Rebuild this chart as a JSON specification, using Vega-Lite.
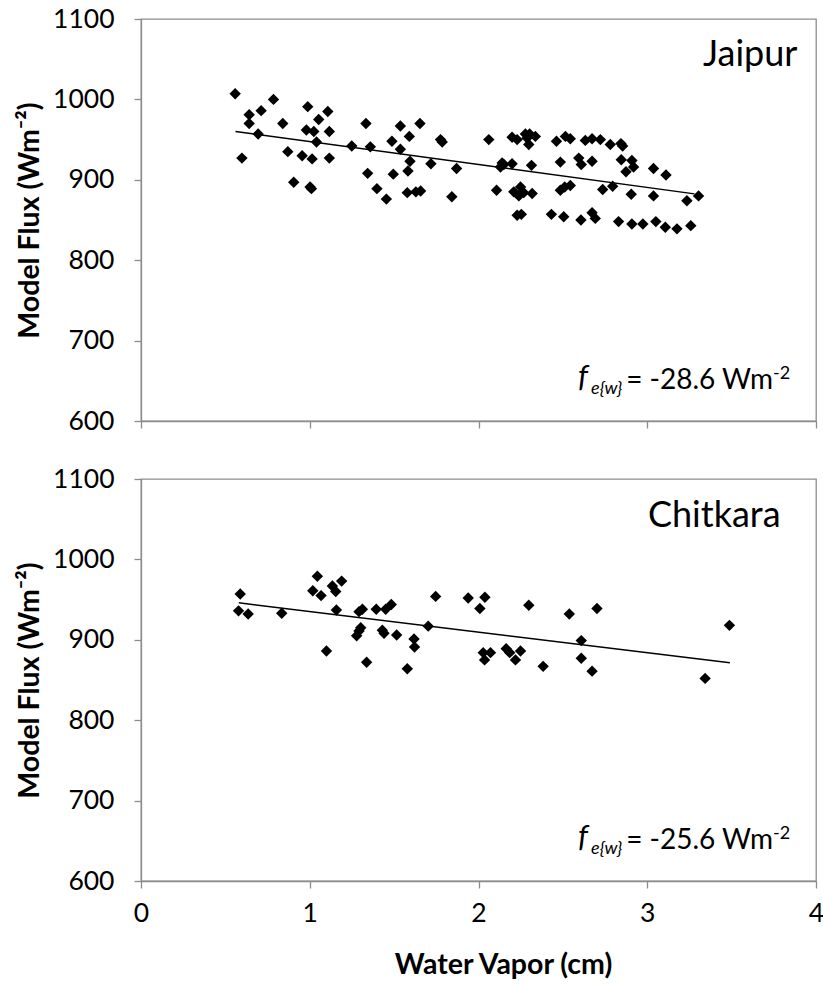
{
  "$schema": "https://vega.github.io/schema/vega-lite/v6.json",
  "background": "white",
  "padding": {"left": 14, "top": 5, "right": 6, "bottom": 5},
  "config": {
    "font": "Lato",
    "view": {"stroke": "#8c8c8c", "strokeWidth": 1.3},
    "axis": {"grid": false, "domainColor": "#8c8c8c", "tickColor": "#8c8c8c", "domainWidth": 1.3, "tickWidth": 1.3, "tickSize": 7, "labelFontSize": 26.5, "labelColor": "#000000", "labelFont": "Lato", "titleFont": "Lato", "titleFontSize": 28.5, "titleFontWeight": "bold", "titleColor": "#000000", "labelFlush": false, "labelOverlap": false}
  },
  "datasets": {
    "points": [
      {"site":"Jaipur","wv":0.558,"flux":1007},{"site":"Jaipur","wv":0.641,"flux":981},{"site":"Jaipur","wv":0.712,"flux":986},{"site":"Jaipur","wv":0.785,"flux":1000},{"site":"Jaipur","wv":0.641,"flux":970},{"site":"Jaipur","wv":0.694,"flux":957},{"site":"Jaipur","wv":0.598,"flux":927},{"site":"Jaipur","wv":0.840,"flux":970},{"site":"Jaipur","wv":0.870,"flux":935},{"site":"Jaipur","wv":0.905,"flux":897},{"site":"Jaipur","wv":0.955,"flux":930},{"site":"Jaipur","wv":0.988,"flux":991},{"site":"Jaipur","wv":0.980,"flux":962},{"site":"Jaipur","wv":1.002,"flux":891},{"site":"Jaipur","wv":1.010,"flux":889},{"site":"Jaipur","wv":1.014,"flux":926},{"site":"Jaipur","wv":1.053,"flux":975},{"site":"Jaipur","wv":1.024,"flux":960},{"site":"Jaipur","wv":1.040,"flux":947},{"site":"Jaipur","wv":1.107,"flux":985},{"site":"Jaipur","wv":1.116,"flux":960},{"site":"Jaipur","wv":1.116,"flux":927},{"site":"Jaipur","wv":1.249,"flux":942},{"site":"Jaipur","wv":1.333,"flux":970},{"site":"Jaipur","wv":1.359,"flux":941},{"site":"Jaipur","wv":1.343,"flux":908},{"site":"Jaipur","wv":1.398,"flux":889},{"site":"Jaipur","wv":1.454,"flux":876},{"site":"Jaipur","wv":1.487,"flux":948},{"site":"Jaipur","wv":1.537,"flux":967},{"site":"Jaipur","wv":1.537,"flux":938},{"site":"Jaipur","wv":1.590,"flux":954},{"site":"Jaipur","wv":1.653,"flux":970},{"site":"Jaipur","wv":1.594,"flux":923},{"site":"Jaipur","wv":1.582,"flux":911},{"site":"Jaipur","wv":1.495,"flux":907},{"site":"Jaipur","wv":1.578,"flux":884},{"site":"Jaipur","wv":1.629,"flux":885},{"site":"Jaipur","wv":1.657,"flux":886},{"site":"Jaipur","wv":1.718,"flux":920},{"site":"Jaipur","wv":1.775,"flux":950},{"site":"Jaipur","wv":1.785,"flux":947},{"site":"Jaipur","wv":1.870,"flux":914},{"site":"Jaipur","wv":1.842,"flux":879},{"site":"Jaipur","wv":2.061,"flux":950},{"site":"Jaipur","wv":2.199,"flux":953},{"site":"Jaipur","wv":2.229,"flux":950},{"site":"Jaipur","wv":2.278,"flux":957},{"site":"Jaipur","wv":2.303,"flux":957},{"site":"Jaipur","wv":2.337,"flux":954},{"site":"Jaipur","wv":2.298,"flux":944},{"site":"Jaipur","wv":2.288,"flux":952},{"site":"Jaipur","wv":2.462,"flux":948},{"site":"Jaipur","wv":2.515,"flux":954},{"site":"Jaipur","wv":2.544,"flux":951},{"site":"Jaipur","wv":2.633,"flux":949},{"site":"Jaipur","wv":2.673,"flux":951},{"site":"Jaipur","wv":2.722,"flux":950},{"site":"Jaipur","wv":2.781,"flux":944},{"site":"Jaipur","wv":2.844,"flux":945},{"site":"Jaipur","wv":2.854,"flux":942},{"site":"Jaipur","wv":2.140,"flux":921},{"site":"Jaipur","wv":2.150,"flux":919},{"site":"Jaipur","wv":2.199,"flux":920},{"site":"Jaipur","wv":2.130,"flux":916},{"site":"Jaipur","wv":2.314,"flux":918},{"site":"Jaipur","wv":2.485,"flux":922},{"site":"Jaipur","wv":2.594,"flux":927},{"site":"Jaipur","wv":2.609,"flux":919},{"site":"Jaipur","wv":2.673,"flux":923},{"site":"Jaipur","wv":2.846,"flux":925},{"site":"Jaipur","wv":2.909,"flux":924},{"site":"Jaipur","wv":2.919,"flux":916},{"site":"Jaipur","wv":2.874,"flux":910},{"site":"Jaipur","wv":3.037,"flux":914},{"site":"Jaipur","wv":3.111,"flux":906},{"site":"Jaipur","wv":2.107,"flux":887},{"site":"Jaipur","wv":2.209,"flux":885},{"site":"Jaipur","wv":2.249,"flux":891},{"site":"Jaipur","wv":2.268,"flux":884},{"site":"Jaipur","wv":2.239,"flux":880},{"site":"Jaipur","wv":2.318,"flux":883},{"site":"Jaipur","wv":2.485,"flux":887},{"site":"Jaipur","wv":2.511,"flux":891},{"site":"Jaipur","wv":2.544,"flux":893},{"site":"Jaipur","wv":2.736,"flux":888},{"site":"Jaipur","wv":2.795,"flux":892},{"site":"Jaipur","wv":2.905,"flux":882},{"site":"Jaipur","wv":3.037,"flux":880},{"site":"Jaipur","wv":3.235,"flux":874},{"site":"Jaipur","wv":3.304,"flux":880},{"site":"Jaipur","wv":2.229,"flux":856},{"site":"Jaipur","wv":2.254,"flux":857},{"site":"Jaipur","wv":2.432,"flux":857},{"site":"Jaipur","wv":2.505,"flux":854},{"site":"Jaipur","wv":2.607,"flux":850},{"site":"Jaipur","wv":2.673,"flux":859},{"site":"Jaipur","wv":2.692,"flux":852},{"site":"Jaipur","wv":2.830,"flux":848},{"site":"Jaipur","wv":2.909,"flux":845},{"site":"Jaipur","wv":2.974,"flux":845},{"site":"Jaipur","wv":3.051,"flux":848},{"site":"Jaipur","wv":3.107,"flux":841},{"site":"Jaipur","wv":3.176,"flux":839},{"site":"Jaipur","wv":3.258,"flux":843},
      {"site":"Chitkara","wv":0.588,"flux":957},{"site":"Chitkara","wv":0.578,"flux":936},{"site":"Chitkara","wv":0.635,"flux":932},{"site":"Chitkara","wv":0.834,"flux":933},{"site":"Chitkara","wv":1.045,"flux":979},{"site":"Chitkara","wv":1.018,"flux":961},{"site":"Chitkara","wv":1.067,"flux":955},{"site":"Chitkara","wv":1.134,"flux":967},{"site":"Chitkara","wv":1.154,"flux":960},{"site":"Chitkara","wv":1.189,"flux":973},{"site":"Chitkara","wv":1.158,"flux":937},{"site":"Chitkara","wv":1.099,"flux":886},{"site":"Chitkara","wv":1.292,"flux":935},{"site":"Chitkara","wv":1.312,"flux":938},{"site":"Chitkara","wv":1.302,"flux":915},{"site":"Chitkara","wv":1.292,"flux":911},{"site":"Chitkara","wv":1.278,"flux":905},{"site":"Chitkara","wv":1.337,"flux":872},{"site":"Chitkara","wv":1.394,"flux":938},{"site":"Chitkara","wv":1.450,"flux":938},{"site":"Chitkara","wv":1.483,"flux":944},{"site":"Chitkara","wv":1.430,"flux":912},{"site":"Chitkara","wv":1.440,"flux":908},{"site":"Chitkara","wv":1.515,"flux":906},{"site":"Chitkara","wv":1.618,"flux":901},{"site":"Chitkara","wv":1.621,"flux":891},{"site":"Chitkara","wv":1.578,"flux":864},{"site":"Chitkara","wv":1.702,"flux":917},{"site":"Chitkara","wv":1.746,"flux":954},{"site":"Chitkara","wv":1.939,"flux":952},{"site":"Chitkara","wv":2.008,"flux":939},{"site":"Chitkara","wv":2.038,"flux":953},{"site":"Chitkara","wv":2.298,"flux":943},{"site":"Chitkara","wv":2.538,"flux":932},{"site":"Chitkara","wv":2.702,"flux":939},{"site":"Chitkara","wv":3.487,"flux":918},{"site":"Chitkara","wv":2.609,"flux":899},{"site":"Chitkara","wv":2.028,"flux":884},{"site":"Chitkara","wv":2.071,"flux":884},{"site":"Chitkara","wv":2.036,"flux":875},{"site":"Chitkara","wv":2.164,"flux":889},{"site":"Chitkara","wv":2.185,"flux":884},{"site":"Chitkara","wv":2.219,"flux":875},{"site":"Chitkara","wv":2.249,"flux":886},{"site":"Chitkara","wv":2.383,"flux":867},{"site":"Chitkara","wv":2.609,"flux":877},{"site":"Chitkara","wv":2.673,"flux":861},{"site":"Chitkara","wv":3.343,"flux":852}
    ],
    "fits": [
      {"site":"Jaipur","wv":0.56,"flux":960},{"site":"Jaipur","wv":3.28,"flux":882.5},
      {"site":"Chitkara","wv":0.58,"flux":946},{"site":"Chitkara","wv":3.49,"flux":871.5}
    ],
    "names": [
      {"site":"Jaipur","wv":3.89,"flux":1041},
      {"site":"Chitkara","wv":3.79,"flux":1040}
    ],
    "formula": [
      {"site":"Jaipur","part":"f","text":"f","wv":2.59,"flux":642},
      {"site":"Jaipur","part":"sub","text":"e{w}","wv":2.667,"flux":634},
      {"site":"Jaipur","part":"main","text":"= -28.6 Wm","wv":2.875,"flux":640},
      {"site":"Jaipur","part":"sup","text":"-2","wv":3.745,"flux":652},
      {"site":"Chitkara","part":"f","text":"f","wv":2.59,"flux":642},
      {"site":"Chitkara","part":"sub","text":"e{w}","wv":2.667,"flux":634},
      {"site":"Chitkara","part":"main","text":"= -25.6 Wm","wv":2.875,"flux":640},
      {"site":"Chitkara","part":"sup","text":"-2","wv":3.745,"flux":652}
    ]
  },
  "bounds": "flush",
  "spacing": 58,
  "vconcat": [
    {
      "width": 675,
      "height": 402,
      "encoding": {
        "x": {"field": "wv", "type": "quantitative", "scale": {"domain": [0, 4], "nice": false}, "axis": {"values": [0,1,2,3,4], "labels": false, "title": null}},
        "y": {"field": "flux", "type": "quantitative", "scale": {"domain": [600, 1100], "nice": false, "zero": false}, "axis": {"values": [600,700,800,900,1000,1100], "format": "d", "title": "Model Flux (Wm⁻²)", "labelPadding": 20, "titlePadding": 8}}
      },
      "layer": [
        {"data": {"name": "points"}, "transform": [{"filter": "datum.site === 'Jaipur'"}], "mark": {"type": "point", "shape": "diamond", "filled": true, "color": "#000000", "size": 130, "opacity": 1}},
        {"data": {"name": "fits"}, "transform": [{"filter": "datum.site === 'Jaipur'"}], "mark": {"type": "line", "color": "#000000", "strokeWidth": 1.5}},
        {"data": {"name": "names"}, "transform": [{"filter": "datum.site === 'Jaipur'"}], "mark": {"type": "text", "align": "right", "baseline": "alphabetic", "fontSize": 36, "color": "#000000"}, "encoding": {"text": {"field": "site"}}},
        {"data": {"name": "formula"}, "transform": [{"filter": "datum.site === 'Jaipur' && datum.part === 'f'"}], "mark": {"type": "text", "align": "left", "baseline": "alphabetic", "fontSize": 31, "fontStyle": "italic", "color": "#000000"}, "encoding": {"text": {"field": "text"}}},
        {"data": {"name": "formula"}, "transform": [{"filter": "datum.site === 'Jaipur' && datum.part === 'sub'"}], "mark": {"type": "text", "align": "left", "baseline": "alphabetic", "fontSize": 18, "fontStyle": "italic", "color": "#000000"}, "encoding": {"text": {"field": "text"}}},
        {"data": {"name": "formula"}, "transform": [{"filter": "datum.site === 'Jaipur' && datum.part === 'main'"}], "mark": {"type": "text", "align": "left", "baseline": "alphabetic", "fontSize": 28, "color": "#000000"}, "encoding": {"text": {"field": "text"}}},
        {"data": {"name": "formula"}, "transform": [{"filter": "datum.site === 'Jaipur' && datum.part === 'sup'"}], "mark": {"type": "text", "align": "left", "baseline": "alphabetic", "fontSize": 18, "color": "#000000"}, "encoding": {"text": {"field": "text"}}}
      ]
    },
    {
      "width": 675,
      "height": 402,
      "encoding": {
        "x": {"field": "wv", "type": "quantitative", "scale": {"domain": [0, 4], "nice": false}, "axis": {"values": [0,1,2,3,4], "title": "Water Vapor (cm)", "labelPadding": 12, "titleX": 362, "titleY": 69, "titleBaseline": "top"}},
        "y": {"field": "flux", "type": "quantitative", "scale": {"domain": [600, 1100], "nice": false, "zero": false}, "axis": {"values": [600,700,800,900,1000,1100], "format": "d", "title": "Model Flux (Wm⁻²)", "labelPadding": 20, "titlePadding": 8}}
      },
      "layer": [
        {"data": {"name": "points"}, "transform": [{"filter": "datum.site === 'Chitkara'"}], "mark": {"type": "point", "shape": "diamond", "filled": true, "color": "#000000", "size": 130, "opacity": 1}},
        {"data": {"name": "fits"}, "transform": [{"filter": "datum.site === 'Chitkara'"}], "mark": {"type": "line", "color": "#000000", "strokeWidth": 1.5}},
        {"data": {"name": "names"}, "transform": [{"filter": "datum.site === 'Chitkara'"}], "mark": {"type": "text", "align": "right", "baseline": "alphabetic", "fontSize": 36, "color": "#000000"}, "encoding": {"text": {"field": "site"}}},
        {"data": {"name": "formula"}, "transform": [{"filter": "datum.site === 'Chitkara' && datum.part === 'f'"}], "mark": {"type": "text", "align": "left", "baseline": "alphabetic", "fontSize": 31, "fontStyle": "italic", "color": "#000000"}, "encoding": {"text": {"field": "text"}}},
        {"data": {"name": "formula"}, "transform": [{"filter": "datum.site === 'Chitkara' && datum.part === 'sub'"}], "mark": {"type": "text", "align": "left", "baseline": "alphabetic", "fontSize": 18, "fontStyle": "italic", "color": "#000000"}, "encoding": {"text": {"field": "text"}}},
        {"data": {"name": "formula"}, "transform": [{"filter": "datum.site === 'Chitkara' && datum.part === 'main'"}], "mark": {"type": "text", "align": "left", "baseline": "alphabetic", "fontSize": 28, "color": "#000000"}, "encoding": {"text": {"field": "text"}}},
        {"data": {"name": "formula"}, "transform": [{"filter": "datum.site === 'Chitkara' && datum.part === 'sup'"}], "mark": {"type": "text", "align": "left", "baseline": "alphabetic", "fontSize": 18, "color": "#000000"}, "encoding": {"text": {"field": "text"}}}
      ]
    }
  ]
}
